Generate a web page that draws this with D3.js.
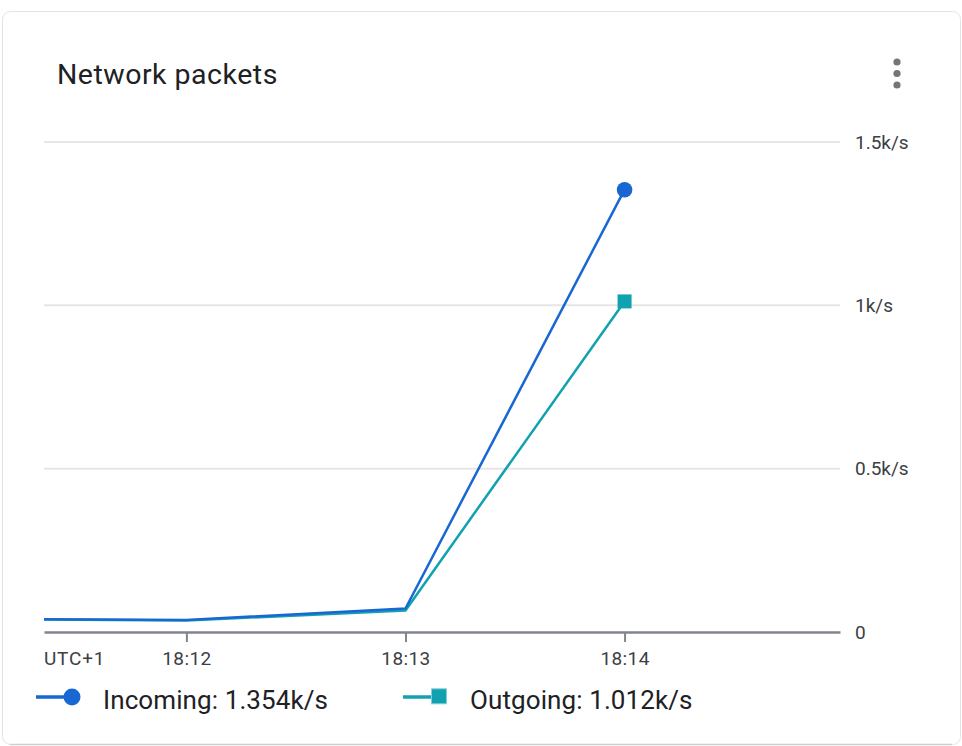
<!DOCTYPE html>
<html>
<head>
<meta charset="utf-8">
<script src="https://cdn.jsdelivr.net/npm/d3@7"></script>
<style>
  html, body { margin: 0; padding: 0; background: #fff; }
  svg { display: block; font-family: Roboto, "Noto Sans", sans-serif; }
</style>
</head>
<body>
<svg id="chart" width="962" height="746"></svg>
<script>
// ---- Data ----
const title = "Network packets";
const times = ["18:11:21", "18:12:00", "18:13:00", "18:14:00"];
const incoming = [39, 37, 72, 1354];
const outgoing = [38, 35, 66, 1012];
const seriesNames = ["Incoming", "Outgoing"];
const legendValues = ["1.354k/s", "1.012k/s"];
const yTicks = [0, 500, 1000, 1500];
const yTickLabels = ["0", "0.5k/s", "1k/s", "1.5k/s"];
const xTicks = ["18:12:00", "18:13:00", "18:14:00"];
const xTickLabels = ["18:12", "18:13", "18:14"];
const xDomain = ["18:11:21", "18:14:59"];
const timezoneLabel = "UTC+1";

const colors = { incoming: "#1967d2", outgoing: "#12a1b0" };

const parse = d3.timeParse("%H:%M:%S");
const svg = d3.select("#chart");

// card
svg.append("rect")
  .attr("x", 2.5).attr("y", 11.5).attr("width", 958).attr("height", 733)
  .attr("rx", 8).attr("fill", "#fff")
  .attr("stroke", "#e3e3e3").attr("stroke-width", 1);
svg.append("path")
  .attr("d", "M10,744.5 L952,744.5")
  .attr("stroke", "#cfcfcf").attr("stroke-width", 1.5);

// title
svg.append("text")
  .attr("x", 57).attr("y", 84)
  .attr("font-size", 28.5).attr("letter-spacing", 0.5).attr("fill", "#202124")
  .text(title);

// kebab menu
[62, 73.5, 85].forEach(cy => {
  svg.append("circle").attr("cx", 897).attr("cy", cy).attr("r", 3.6).attr("fill", "#757575");
});

// scales
const x = d3.scaleTime().domain(xDomain.map(parse)).range([44, 840]);
const y = d3.scaleLinear().domain([0, 1500]).range([632, 142]);

// gridlines (non-zero)
const grid = svg.append("g");
yTicks.filter(v => v !== 0).forEach(v => {
  grid.append("line")
    .attr("x1", 44).attr("x2", 840)
    .attr("y1", y(v)).attr("y2", y(v))
    .attr("stroke", "#e6e6e6").attr("stroke-width", 2);
});

// y labels on right
yTicks.forEach((v, i) => {
  svg.append("text")
    .attr("x", 855).attr("y", y(v))
    .attr("dy", "0.35em")
    .attr("font-size", 19).attr("fill", "#3c4043")
    .text(yTickLabels[i]);
});

// x axis
const xAxis = d3.axisBottom(x)
  .tickValues(xTicks.map(parse))
  .tickFormat((d, i) => xTickLabels[i])
  .tickSize(10).tickPadding(6).tickSizeOuter(0);
const gx = svg.append("g").attr("transform", "translate(0,632)").call(xAxis);
gx.select(".domain").attr("stroke", "#80868b").attr("stroke-width", 2.5);
gx.selectAll(".tick line").attr("stroke", "#80868b").attr("stroke-width", 2);
gx.selectAll(".tick text")
  .attr("font-size", 19).attr("fill", "#3c4043")
  .attr("font-family", "Roboto, sans-serif")
  .attr("letter-spacing", 0.4)
  .attr("y", 20).attr("dy", "0.71em");

svg.append("text")
  .attr("x", 44).attr("y", 665)
  .attr("font-size", 19).attr("letter-spacing", 0.8).attr("fill", "#3c4043")
  .text(timezoneLabel);

// lines
const line = d3.line().x(d => x(d.t)).y(d => y(d.v));
const mk = arr => times.map((t, i) => ({ t: parse(t), v: arr[i] }));
const inData = mk(incoming);
const outData = mk(outgoing);

svg.append("path").datum(outData)
  .attr("d", line).attr("fill", "none")
  .attr("stroke", colors.outgoing).attr("stroke-width", 2.5)
  .attr("stroke-linejoin", "round");
svg.append("path").datum(inData)
  .attr("d", line).attr("fill", "none")
  .attr("stroke", colors.incoming).attr("stroke-width", 2.5)
  .attr("stroke-linejoin", "round");

// end markers
const lastIn = inData[inData.length - 1];
const lastOut = outData[outData.length - 1];
svg.append("circle")
  .attr("cx", x(lastIn.t)).attr("cy", y(lastIn.v)).attr("r", 7.8)
  .attr("fill", colors.incoming);
svg.append("rect")
  .attr("x", x(lastOut.t) - 7).attr("y", y(lastOut.v) - 7)
  .attr("width", 14).attr("height", 14)
  .attr("fill", colors.outgoing);

// legend
const legend = svg.append("g");
// incoming
legend.append("line").attr("x1", 36).attr("x2", 64).attr("y1", 697).attr("y2", 697)
  .attr("stroke", colors.incoming).attr("stroke-width", 3.5);
legend.append("circle").attr("cx", 72).attr("cy", 697).attr("r", 8.5).attr("fill", colors.incoming);
legend.append("text").attr("x", 103).attr("y", 709)
  .attr("font-size", 26).attr("letter-spacing", 0.1).attr("fill", "#202124")
  .text(seriesNames[0] + ": " + legendValues[0]);
// outgoing
legend.append("line").attr("x1", 403).attr("x2", 432).attr("y1", 697).attr("y2", 697)
  .attr("stroke", colors.outgoing).attr("stroke-width", 3.5);
legend.append("rect").attr("x", 431.5).attr("y", 688.8).attr("width", 15).attr("height", 15)
  .attr("fill", colors.outgoing).attr("stroke", "#7fd0d8").attr("stroke-width", 1);
legend.append("text").attr("x", 470).attr("y", 709)
  .attr("font-size", 26).attr("letter-spacing", 0.1).attr("fill", "#202124")
  .text(seriesNames[1] + ": " + legendValues[1]);
</script>
</body>
</html>
